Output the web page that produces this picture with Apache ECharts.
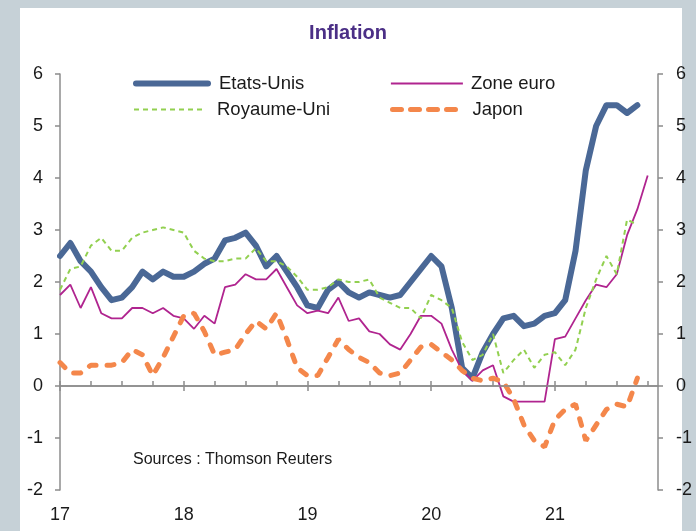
<!DOCTYPE html>
<html>
<head>
<meta charset="utf-8">
<title>Inflation</title>
<script src="https://cdn.jsdelivr.net/npm/echarts@6/dist/echarts.min.js"></script>
<style>
	html,body{margin:0;padding:0;background:#c6d1d7;}
	#chart{width:696px;height:531px;}
</style>
</head>
<body>
<div id="chart"></div>
<script>
// months from janv. 2017 to nov. 2021 (x axis categories)
var months = [];
for (var y = 2017; y <= 2021; y++) {
	for (var m = 1; m <= 12; m++) {
		if (y == 2021 && m > 11) break;
		months.push(y + '-' + (m < 10 ? '0' + m : m));
	}
}
var yearLabels = ['17', '18', '19', '20', '21'];
var yTicks = [-2, 6, 1]; // min, max, step

// inflation, % sur un an
var etatsUnis = [2.5, 2.75, 2.4, 2.2, 1.9, 1.65, 1.7, 1.9, 2.2, 2.05, 2.2, 2.1,
	2.1, 2.2, 2.35, 2.45, 2.8, 2.85, 2.95, 2.7, 2.3, 2.5, 2.2, 1.9,
	1.55, 1.5, 1.85, 2.0, 1.8, 1.7, 1.8, 1.75, 1.7, 1.75, 2.0, 2.25,
	2.5, 2.3, 1.5, 0.35, 0.15, 0.65, 1.0, 1.3, 1.35, 1.15, 1.2, 1.35,
	1.4, 1.65, 2.6, 4.15, 5.0, 5.4, 5.4, 5.25, 5.4];
var zoneEuro = [1.75, 1.95, 1.5, 1.9, 1.4, 1.3, 1.3, 1.5, 1.5, 1.4, 1.5, 1.35,
	1.3, 1.1, 1.35, 1.2, 1.9, 1.95, 2.15, 2.05, 2.05, 2.25, 1.9, 1.55,
	1.4, 1.45, 1.4, 1.7, 1.25, 1.3, 1.05, 1.0, 0.8, 0.7, 1.0, 1.35,
	1.35, 1.2, 0.7, 0.3, 0.1, 0.3, 0.4, -0.2, -0.3, -0.3, -0.3, -0.3,
	0.9, 0.95, 1.3, 1.65, 1.95, 1.9, 2.15, 2.9, 3.4, 4.05];
var royaumeUni = [1.85, 2.25, 2.3, 2.7, 2.85, 2.6, 2.6, 2.85, 2.95, 3.0, 3.05, 3.0,
	2.95, 2.6, 2.45, 2.4, 2.4, 2.45, 2.45, 2.65, 2.4, 2.4, 2.3, 2.1,
	1.85, 1.85, 1.9, 2.05, 2.0, 2.0, 2.05, 1.7, 1.6, 1.5, 1.5, 1.3,
	1.75, 1.65, 1.5, 0.85, 0.5, 0.6, 1.0, 0.25, 0.5, 0.7, 0.35, 0.6,
	0.65, 0.4, 0.7, 1.5, 2.05, 2.5, 2.15, 3.2, 3.1];
var japon = [0.45, 0.25, 0.25, 0.4, 0.4, 0.4, 0.45, 0.7, 0.6, 0.2, 0.55, 0.95,
	1.35, 1.4, 1.05, 0.6, 0.65, 0.7, 1.0, 1.25, 1.1, 1.4, 0.9, 0.35,
	0.2, 0.2, 0.55, 0.9, 0.7, 0.55, 0.45, 0.25, 0.2, 0.25, 0.5, 0.75,
	0.8, 0.65, 0.5, 0.3, 0.15, 0.1, 0.15, 0.08, -0.25, -0.75, -1.05, -1.17,
	-0.65, -0.45, -0.35, -1.05, -0.75, -0.45, -0.35, -0.4, 0.15];

var font = 'Liberation Sans, Arial, sans-serif';
var axisGrey = '#8c8c8c';

function yAxisOf(pos, margin){
	return {
		type: 'value',
		position: pos,
		min: yTicks[0],
		max: yTicks[1],
		interval: yTicks[2],
		axisLine: {show: true, lineStyle: {color: axisGrey, width: 1.5}},
		axisTick: {show: true, inside: false, length: 5, lineStyle: {color: axisGrey, width: 1.5}},
		axisLabel: {color: '#1a1a1a', fontSize: 18, fontFamily: font, margin: margin},
		splitLine: {show: false}
	};
}

function legendOf(name, left, top, pad, line){
	return {
		data: [name],
		left: left,
		top: top,
		padding: 0,
		itemWidth: 72,
		itemHeight: 14,
		selectedMode: false,
		itemStyle: {opacity: 0},
		lineStyle: line,
		textStyle: {color: '#1a1a1a', fontSize: 18.5, fontFamily: font, padding: [0, 0, 0, pad]}
	};
}

function show_chart(id){
	var option = {
		backgroundColor: '#c6d1d7',
		animation: false,
		graphic: [
			{type: 'rect', z: -10, shape: {x: 20, y: 8, width: 662, height: 530}, style: {fill: '#ffffff'}},
			{type: 'text', left: 133, top: 452, style: {text: 'Sources : Thomson Reuters', fill: '#1a1a1a', font: '16px ' + font}}
		],
		title: {
			text: 'Inflation',
			left: 'center',
			top: 18,
			textStyle: {color: '#4b2f86', fontSize: 20, fontWeight: 'bold', fontFamily: font}
		},
		legend: [
			legendOf('Etats-Unis', 133, 74, 6, {width: 6}),
			legendOf('Zone euro', 390, 74, 3, {width: 1.8}),
			legendOf('Royaume-Uni', 133, 100, 6, {width: 2, type: [5, 4]}),
			legendOf('Japon', 390, 100, 3, {width: 5, type: [9, 9], cap: 'round'})
		],
		grid: {left: 60, right: 38, top: 74, bottom: 41, outerBoundsMode: 'none'},
		xAxis: [
			{
				type: 'category',
				data: months,
				boundaryGap: false,
				position: 'bottom',
				axisLine: {show: true, lineStyle: {color: axisGrey, width: 1.5}},
				axisTick: {show: true, inside: false, length: 5, lineStyle: {color: axisGrey, width: 1.5},
					interval: function(i){ return i % 12 == 0; }},
				axisLabel: {color: '#1a1a1a', fontSize: 18, fontFamily: font, margin: 16,
					interval: function(i){ return i % 12 == 0; },
					formatter: function(v, i){ return yearLabels[i / 12]; }}
			},
			{
				type: 'category',
				data: months,
				boundaryGap: false,
				position: 'bottom',
				axisLine: {show: false},
				axisTick: {show: true, inside: true, length: 5, lineStyle: {color: axisGrey, width: 1.5},
					interval: function(i){ return i % 3 == 0; }},
				axisLabel: {show: false}
			}
		],
		yAxis: [yAxisOf('left', 17), yAxisOf('right', 18)],
		series: [
			{
				name: 'Etats-Unis',
				type: 'line',
				data: etatsUnis,
				symbol: 'none',
				lineStyle: {color: '#4a6896', width: 6, cap: 'round', join: 'round'},
				itemStyle: {color: '#4a6896'},
				markLine: {
					silent: true,
					symbol: 'none',
					label: {show: false},
					lineStyle: {color: axisGrey, type: 'solid', width: 1.5},
					data: [{yAxis: 0}]
				}
			},
			{
				name: 'Zone euro',
				type: 'line',
				data: zoneEuro,
				symbol: 'none',
				lineStyle: {color: '#b0248f', width: 1.8},
				itemStyle: {color: '#b0248f'}
			},
			{
				name: 'Royaume-Uni',
				type: 'line',
				data: royaumeUni,
				symbol: 'none',
				lineStyle: {color: '#92d050', width: 2, type: [5, 4]},
				itemStyle: {color: '#92d050'}
			},
			{
				name: 'Japon',
				type: 'line',
				data: japon,
				symbol: 'none',
				lineStyle: {color: '#f4874b', width: 5, type: [7, 11], cap: 'round'},
				itemStyle: {color: '#f4874b'}
			}
		]
	};

	//初始化echarts实例
	var myChart = echarts.init(document.getElementById(id));
	myChart.setOption(option);
}

show_chart('chart');
</script>
</body>
</html>
